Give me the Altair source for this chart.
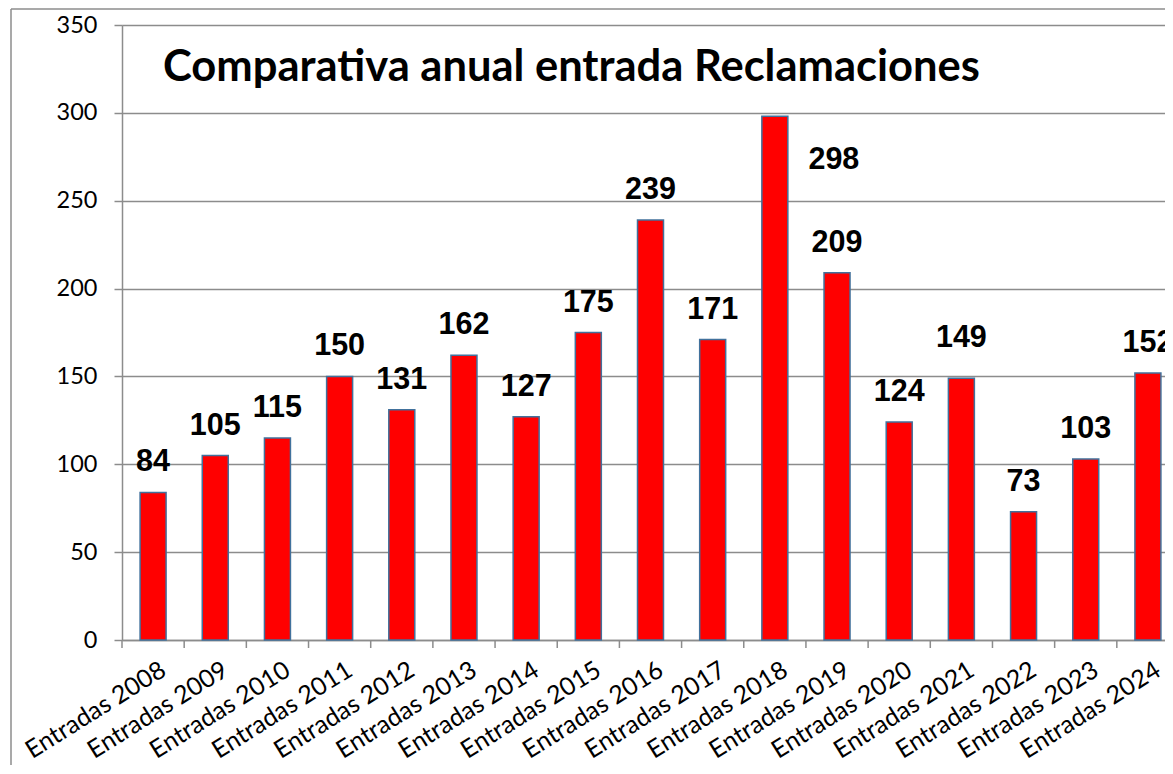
import altair as alt
import pandas as pd

categories = ["Entradas 2008", "Entradas 2009", "Entradas 2010", "Entradas 2011",
              "Entradas 2012", "Entradas 2013", "Entradas 2014", "Entradas 2015",
              "Entradas 2016", "Entradas 2017", "Entradas 2018", "Entradas 2019",
              "Entradas 2020", "Entradas 2021", "Entradas 2022", "Entradas 2023",
              "Entradas 2024"]
values = [84, 105, 115, 150, 131, 162, 127, 175, 239, 171, 298, 209, 124, 149, 73, 103, 152]
y_ticks = [0, 50, 100, 150, 200, 250, 300, 350]
title_text = "Comparativa anual entrada Reclamaciones"

df = pd.DataFrame({"cat": categories, "val": values})

W = 1043
H = 615
GREY = "#8C8C8C"

xscale = alt.Scale(domain=categories, range=[0, 1057], paddingInner=0, paddingOuter=0)
yscale = alt.Scale(domain=[0, 350], nice=False)

base = alt.Chart(df)

bars = base.mark_bar(size=26, color="#FF0000", stroke="#41719C", strokeWidth=1.5).encode(
    x=alt.X("cat:N", scale=xscale, sort=categories,
            axis=alt.Axis(title=None, labelAngle=-32, labelAlign="right", labelBaseline="top",
                          labelFont="Lato", labelFontSize=25, labelColor="#000000",
                          ticks=False, labelPadding=17, labelOffset=4,
                          domainColor=GREY, domainWidth=1.5, labelOverlap=False)),
    y=alt.Y("val:Q", scale=yscale,
            axis=alt.Axis(title=None, values=y_ticks, labelFont="Lato", labelFontSize=23.5,
                          labelColor="#000000", tickColor=GREY, tickSize=8, tickWidth=1.5,
                          labelPadding=17, domainColor=GREY, domainWidth=1.5,
                          gridColor=GREY, gridWidth=1.5)),
)

xticks = base.mark_rule(color=GREY, strokeWidth=1.5).encode(
    x=alt.X("cat:N", scale=xscale, sort=categories, bandPosition=0),
    y=alt.value(H),
    y2=alt.value(H + 8),
)

label_style = dict(font="Liberation Sans", fontWeight="bold", fontSize=30.5,
                   color="#000000", baseline="middle", align="center")

labels_main = base.transform_filter(
    "datum.cat != 'Entradas 2018' && datum.cat != 'Entradas 2021'"
).mark_text(dy=-30, **label_style).encode(
    x=alt.X("cat:N", scale=xscale, sort=categories),
    y=alt.Y("val:Q", scale=yscale),
    text="val:Q",
)

label_2018 = base.transform_filter("datum.cat == 'Entradas 2018'").mark_text(
    dx=59, dy=44, **label_style).encode(
    x=alt.X("cat:N", scale=xscale, sort=categories),
    y=alt.Y("val:Q", scale=yscale),
    text="val:Q",
)

label_2021 = base.transform_filter("datum.cat == 'Entradas 2021'").mark_text(
    dy=-40, **label_style).encode(
    x=alt.X("cat:N", scale=xscale, sort=categories),
    y=alt.Y("val:Q", scale=yscale),
    text="val:Q",
)

title = alt.Chart(pd.DataFrame({"t": [title_text]})).mark_text(
    font="Lato", fontWeight="bold", fontSize=43.5, align="left", baseline="alphabetic",
    color="#000000").encode(
    x=alt.value(41), y=alt.value(56), text="t:N")

frame_left = alt.Chart(pd.DataFrame({"k": [0]})).mark_rule(color=GREY, strokeWidth=1.5).encode(
    x=alt.value(-111), y=alt.value(-16), y2=alt.value(760))
frame_top = alt.Chart(pd.DataFrame({"k": [0]})).mark_rule(color=GREY, strokeWidth=1.5).encode(
    x=alt.value(-111), x2=alt.value(1100), y=alt.value(-16))

chart = alt.layer(bars, xticks, labels_main, label_2018, label_2021, title,
                  frame_left, frame_top).properties(
    width=W, height=H,
    autosize=alt.AutoSizeParams(type="none"),
    padding={"left": 114, "top": 17, "right": 0, "bottom": 125},
).configure_view(
    fill="#C6D9F1", stroke=None
).configure(background="#FFFFFF")

chart.save("out.html", embed_options={"renderer": "svg", "actions": False})
